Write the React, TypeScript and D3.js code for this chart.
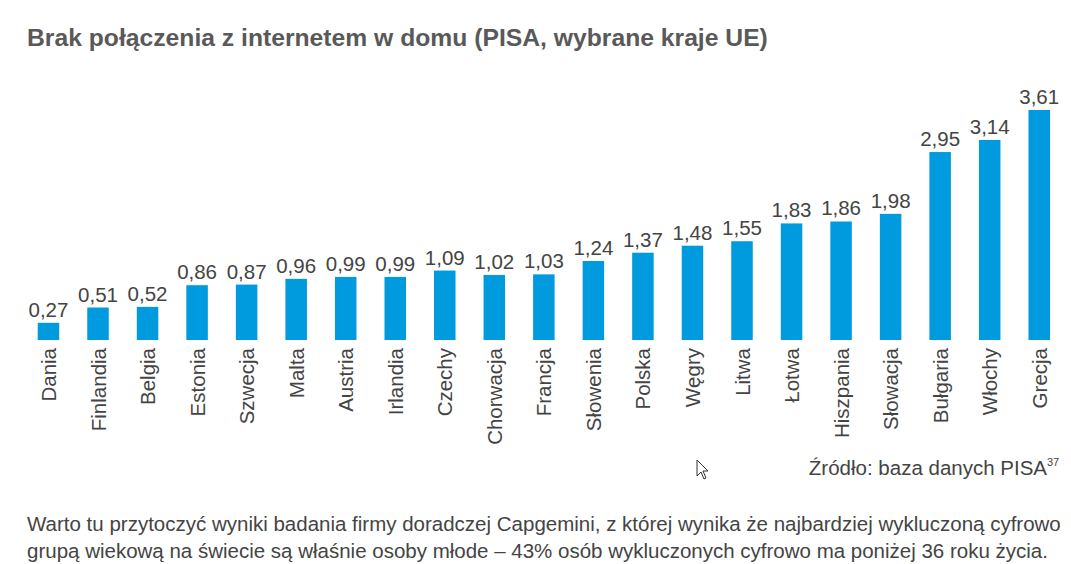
import React from "react";
import * as d3 from "d3";

const categories = ["Dania","Finlandia","Belgia","Estonia","Szwecja","Malta","Austria","Irlandia","Czechy","Chorwacja","Francja","Słowenia","Polska","Węgry","Litwa","Łotwa","Hiszpania","Słowacja","Bułgaria","Włochy","Grecja"];
const values = [0.27,0.51,0.52,0.86,0.87,0.96,0.99,0.99,1.09,1.02,1.03,1.24,1.37,1.48,1.55,1.83,1.86,1.98,2.95,3.14,3.61];

const title = "Brak połączenia z internetem w domu (PISA, wybrane kraje UE)";
const sourceText = "Źródło: baza danych PISA";
const sourceSup = "37";
const paragraph = [
  "Warto tu przytoczyć wyniki badania firmy doradczej Capgemini, z której wynika że najbardziej wykluczoną cyfrowo",
  "grupą wiekową na świecie są właśnie osoby młode – 43% osób wykluczonych cyfrowo ma poniżej 36 roku życia.",
];

const W = 1071, H = 564;
const baseline = 340;
const font = "'Liberation Sans', Arial, sans-serif";

export default function App() {
  const x = d3.scaleBand<string>().domain(categories).range([23.7, 1064]).padding(0);
  const y = d3.scaleLinear().domain([0, 3.61]).range([baseline, 110]);
  const bw = 21.5;
  const fmt = (v: number) => v.toFixed(2).replace(".", ",");
  return (
    <svg width={W} height={H} style={{ position: "absolute", left: 0, top: 0, background: "#fff" }} fontFamily={font}>
      <rect width={W} height={H} fill="#fff" />
      <text x={27} y={46} fontSize={24.7} fontWeight="bold" fill="#595959">{title}</text>
      {categories.map((c, i) => {
        const cx = (x(c) as number) + x.bandwidth() / 2;
        const v = values[i];
        return (
          <g key={c}>
            <rect x={cx - bw / 2} y={y(v)} width={bw} height={baseline - y(v)} fill="#009ADE" />
            <text x={cx} y={y(v) - 6} textAnchor="middle" fontSize={20.5} fill="#444">{fmt(v)}</text>
            <text transform={`translate(${cx},${baseline + 8}) rotate(-90)`} textAnchor="end" dominantBaseline="central" fontSize={20.5} fill="#444">{c}</text>
          </g>
        );
      })}
      <text x={1047} y={475} textAnchor="end" fontSize={20.5} fill="#444">
        {sourceText}
      </text>
      <text x={1047} y={466} fontSize={11} fill="#444">{sourceSup}</text>
      {paragraph.map((line, i) => (
        <text key={i} x={27} y={531 + i * 27} fontSize={20.5} fill="#444">{line}</text>
      ))}
      <path d="M697,460 L697,476 L701,472 L704,479 L706,478 L703,471 L708,471 Z" fill="#fff" stroke="#333" strokeWidth={1} />
    </svg>
  );
}
